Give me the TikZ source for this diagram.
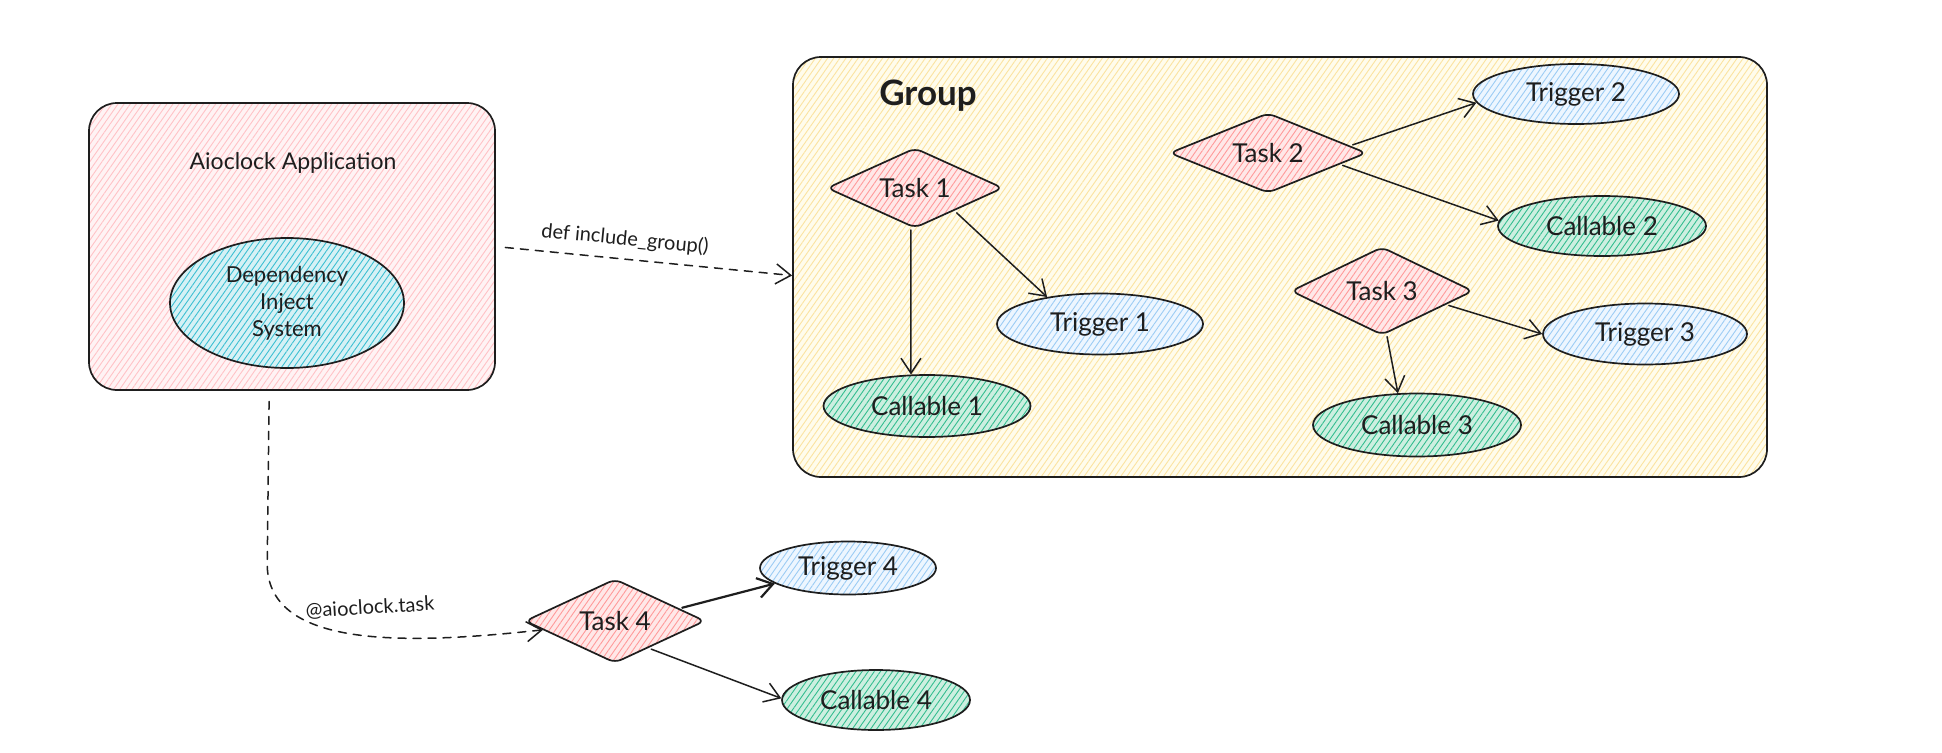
\documentclass[tikz,border=0pt]{standalone}
\usepackage{fontspec}
\setmainfont{Lato}
\usetikzlibrary{shapes.geometric,arrows.meta,patterns.meta}
\definecolor{appbg}{HTML}{FFF3F4}
\definecolor{appln}{HTML}{FFC2C6}
\definecolor{grpbg}{HTML}{FFFCEC}
\definecolor{grpln}{HTML}{FBE3A0}
\definecolor{disbg}{HTML}{D6F1F5}
\definecolor{disln}{HTML}{3CBFD2}
\definecolor{taskbg}{HTML}{FFE8E8}
\definecolor{taskln}{HTML}{FF9A9A}
\definecolor{trigbg}{HTML}{EDF6FF}
\definecolor{trigln}{HTML}{9CCCF4}
\definecolor{callbg}{HTML}{CDEFE0}
\definecolor{callln}{HTML}{33BD8F}
\definecolor{ink}{HTML}{1E1E1E}
\begin{document}
\begin{tikzpicture}[x=1pt,y=-1pt,line join=round,line cap=round,
  hatch/.style 2 args={preaction={fill=#1},pattern={Lines[angle=55,distance=5pt,line width=0.9pt]},pattern color=#2},
  outl/.style={draw=ink,line width=1.7pt},
  bigbox/.style={outl,rectangle,rounded corners=28pt,inner sep=0pt},
  nodefont/.style={font=\fontsize{26}{30}\selectfont,text=ink},
  taskshape/.style={outl,hatch={taskbg}{taskln},diamond,aspect=2.5,rounded corners=7pt,inner sep=0pt,nodefont},
  trigshape/.style={outl,hatch={trigbg}{trigln},ellipse,inner sep=0pt,nodefont},
  callshape/.style={outl,hatch={callbg}{callln},ellipse,inner sep=0pt,nodefont},
  arr/.style={draw=ink,line width=1.5pt,-{Straight Barb[length=15pt,width=20pt]},shorten <=3pt},
  dasharr/.style={draw=ink,line width=1.5pt,dash pattern=on 8pt off 7pt,-{Straight Barb[length=15pt,width=20pt]}},
  lbl/.style={font=\fontsize{20}{24}\selectfont,text=ink}]
\useasboundingbox (0,0) rectangle (1942,752);
\fill[white] (0,0) rectangle (1942,752);
% application box
\node[bigbox,hatch={appbg}{appln},minimum width=406pt,minimum height=287pt] (app) at (292,246.5) {};
\node[font=\fontsize{23}{27}\selectfont,text=ink] (apptitle) at (293,163) {Aioclock Application};
\node[outl,hatch={disbg}{disln},ellipse,inner sep=0pt,minimum width=234pt,minimum height=130pt,align=center,font=\fontsize{22}{27}\selectfont,text=ink] (dis) at (287,303) {Dependency\\Inject\\System};
% group box
\node[bigbox,hatch={grpbg}{grpln},minimum width=974pt,minimum height=420pt] (grp) at (1280,267) {};
\node[font=\bfseries\fontsize{35}{40}\selectfont,text=ink] (grplabel) at (928,96) {Group};
% tasks
\node[taskshape,minimum width=176pt,minimum height=80pt] (t1) at (915,188) {Task 1};
\node[taskshape,minimum width=197pt,minimum height=80pt] (t2) at (1268,153) {Task 2};
\node[taskshape,minimum width=182pt,minimum height=88pt] (t3) at (1382,291) {Task 3};
\node[taskshape,minimum width=180pt,minimum height=84pt] (t4) at (615,621) {Task 4};
% triggers
\node[trigshape,minimum width=206pt,minimum height=61pt] (tr1) at (1100,324) {Trigger 1};
\node[trigshape,minimum width=206pt,minimum height=60pt] (tr2) at (1576,94) {Trigger 2};
\node[trigshape,minimum width=204pt,minimum height=61pt] (tr3) at (1645,334) {Trigger 3};
\node[trigshape,minimum width=176pt,minimum height=53pt] (tr4) at (848,568) {Trigger 4};
% callables
\node[callshape,minimum width=207pt,minimum height=62pt] (c1) at (927,406) {Callable 1};
\node[callshape,minimum width=208pt,minimum height=60pt] (c2) at (1602,226) {Callable 2};
\node[callshape,minimum width=208pt,minimum height=63pt] (c3) at (1417,425) {Callable 3};
\node[callshape,minimum width=188pt,minimum height=60pt] (c4) at (876,700) {Callable 4};
% connectors
\draw[arr] (t1.-96) -- (c1.117);
\draw[arr] (t1.-30) -- (tr1.153);
\draw[arr] (t2.5) -- (tr2.185);
\draw[arr] (t2.-9) -- (c2.177);
\draw[arr] (t3.-12) -- (tr3.180);
\draw[arr] (t3.-84) -- (c3.121);
\draw[arr,line width=2.2pt] (t4.11) -- (tr4.192);
\draw[arr] (t4.-39) -- (c4.179);
% dashed connectors
\draw[dasharr,shorten <=10pt] (app.east) -- (grp.181)
  node[lbl,pos=0.43,above=6pt,sloped] (lbl1) {def include\_group()};
\draw[dasharr,shorten <=11pt] (app.-99) -- ++(-2,175) .. controls +(2,85) and +(-130,14) .. (t4.187);
\node[lbl,rotate=3.4] (lbl2) at (370,608) {@aioclock.task};
\end{tikzpicture}
\end{document}
